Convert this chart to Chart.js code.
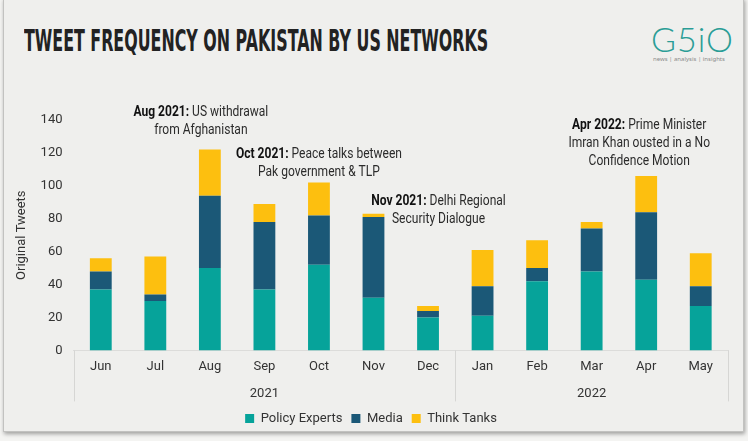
<!DOCTYPE html>
<html>
<head>
<meta charset="utf-8">
<script src="https://cdn.jsdelivr.net/npm/chart.js@4.4.1/dist/chart.umd.min.js"></script>
<style>
  html, body { margin: 0; padding: 0; width: 748px; height: 441px; overflow: hidden; background: #f4f4f2; }
  #card { position: absolute; left: 3px; top: -2px; width: 739px; height: 432px; background: #efefed;
          border: 1px solid #c2c2c0; box-shadow: 1px 2px 4px rgba(0,0,0,.35); }
  #title { position: absolute; left: 24px; top: 25px; font-family: "DejaVu Sans", sans-serif;
           font-weight: bold; font-size: 31px; color: #222; white-space: nowrap; transform-origin: 0 0; line-height: 1; }
  #logo { position: absolute; left: 651px; top: 22px; font-family: Lato, "Noto Sans", sans-serif; font-weight: 300;
          font-size: 34px; color: #2a9d96; line-height: 1; letter-spacing: 1px; }
  #tag { position: absolute; left: 653px; top: 55px; font-family: "Noto Sans", sans-serif; font-size: 6px; color: #8a8a8a; white-space: nowrap; }
  canvas { position: absolute; left: 0; top: 0; }
</style>
</head>
<body>
<div id="card"></div>
<div id="title">TWEET FREQUENCY ON PAKISTAN BY US NETWORKS</div>
<div id="logo">G5iO</div>
<div id="tag">news | analysis | insights</div>
<canvas id="tweetChart" width="748" height="441"></canvas>
<script>
// data
const months = ['Jun', 'Jul', 'Aug', 'Sep', 'Oct', 'Nov', 'Dec', 'Jan', 'Feb', 'Mar', 'Apr', 'May'];
const years = ['2021', '2022'];
const yearSpans = [7, 5];
const policyExperts = [37, 30, 50, 37, 52, 32, 20, 21, 42, 48, 43, 27];
const media = [11, 4, 44, 41, 30, 49, 4, 18, 8, 26, 41, 12];
const thinkTanks = [8, 23, 28, 11, 20, 2, 3, 22, 17, 4, 22, 20];
const yTicks = [0, 20, 40, 60, 80, 100, 120, 140];

const eventIndex = [2, 4, 5, 10];
const eventBold = ['Aug 2021:', 'Oct 2021:', 'Nov 2021:', 'Apr 2022:'];
const eventText = [
    [' US withdrawal', 'from Afghanistan'],
    [' Peace talks between', 'Pak government & TLP'],
    [' Delhi Regional', 'Security Dialogue'],
    [' Prime Minister', 'Imran Khan ousted in a No', 'Confidence Motion']
];

const FONT = 'Roboto, "Noto Sans", sans-serif';
Chart.defaults.font.family = FONT;
Chart.defaults.color = '#333';

// fit the title to its width in the picture
const title = document.getElementById('title');
title.style.transform = 'scaleX(' + (464 / title.offsetWidth) + ')';

// second row of x labels: years, with separator lines
const yearGroups = {
    id: 'yearGroups',
    afterDraw(chart) {
        const { ctx, chartArea, scales: { x } } = chart;
        const half = (x.getPixelForValue(1) - x.getPixelForValue(0)) / 2;
        const top = chartArea.bottom, bottom = chartArea.bottom + 51;
        ctx.save();
        ctx.strokeStyle = '#d6d6d4';
        ctx.lineWidth = 1;
        const sep = px => {
            ctx.beginPath();
            ctx.moveTo(Math.round(px) + 0.5, top);
            ctx.lineTo(Math.round(px) + 0.5, bottom);
            ctx.stroke();
        };
        ctx.fillStyle = '#333';
        ctx.font = '13px ' + FONT;
        ctx.textAlign = 'center';
        ctx.textBaseline = 'middle';
        let start = 0;
        sep(x.getPixelForValue(0) - half);
        years.forEach((yr, i) => {
            const end = start + yearSpans[i];
            const left = x.getPixelForValue(start) - half;
            const right = x.getPixelForValue(end - 1) + half;
            sep(right);
            ctx.fillText(yr, (left + right) / 2, top + 43);
            start = end;
        });
        ctx.restore();
    }
};

// event notes above the bars, a little condensed like the original face
const eventNotes = {
    id: 'eventNotes',
    afterDatasetsDraw(chart) {
        const { ctx, scales: { x, y } } = chart;
        const shift = [[-9, -37], [0, -28], [65, -12], [-7, -50]];
        const squeeze = 0.86;
        ctx.save();
        ctx.textBaseline = 'middle';
        eventIndex.forEach((idx, n) => {
            const total = policyExperts[idx] + media[idx] + thinkTanks[idx];
            const cx = x.getPixelForValue(idx) + shift[n][0];
            let cy = y.getPixelForValue(total) + shift[n][1];
            eventText[n].forEach((line, k) => {
                ctx.save();
                ctx.translate(cx, cy);
                ctx.scale(squeeze, 1);
                if (k === 0) {
                    ctx.font = 'bold 14px ' + FONT;
                    const wb = ctx.measureText(eventBold[n]).width;
                    ctx.font = '14px ' + FONT;
                    const wr = ctx.measureText(line).width;
                    const x0 = -(wb + wr) / 2;
                    ctx.textAlign = 'left';
                    ctx.font = 'bold 14px ' + FONT;
                    ctx.fillStyle = '#111';
                    ctx.fillText(eventBold[n], x0, 0);
                    ctx.font = '14px ' + FONT;
                    ctx.fillStyle = '#2b2b2b';
                    ctx.fillText(line, x0 + wb, 0);
                } else {
                    ctx.font = '14px ' + FONT;
                    ctx.textAlign = 'center';
                    ctx.fillStyle = '#2b2b2b';
                    ctx.fillText(line, 0, 0);
                }
                ctx.restore();
                cy += 18;
            });
        });
        ctx.restore();
    }
};

new Chart(document.getElementById('tweetChart'), {
    type: 'bar',
    data: {
        labels: months,
        datasets: [
            { label: 'Policy Experts', data: policyExperts, backgroundColor: '#06a39a' },
            { label: 'Media', data: media, backgroundColor: '#1b5877' },
            { label: 'Think Tanks', data: thinkTanks, backgroundColor: '#fdbf0f' }
        ]
    },
    options: {
        responsive: false,
        animation: false,
        devicePixelRatio: 1,
        layout: { padding: { left: 14, right: 20, top: 120, bottom: 6 } },
        datasets: { bar: { barPercentage: 0.4, categoryPercentage: 1 } },
        plugins: {
            legend: {
                position: 'bottom',
                labels: { boxWidth: 9, boxHeight: 9, padding: 9, font: { size: 13 }, color: '#333' }
            },
            tooltip: { enabled: false }
        },
        scales: {
            x: {
                stacked: true,
                grid: { display: false, drawTicks: false },
                border: { color: '#dcdcda' },
                ticks: { font: { size: 13 }, padding: 9 },
                afterFit(scale) { scale.height += 19; }
            },
            y: {
                stacked: true,
                min: 0,
                max: 140,
                afterBuildTicks(scale) { scale.ticks = yTicks.map(v => ({ value: v })); },
                grid: { display: false, drawTicks: false },
                border: { display: false },
                ticks: { font: { size: 13 }, padding: 11 },
                title: { display: true, text: 'Original Tweets', font: { size: 13 }, padding: { top: 0, bottom: 0 } }
            }
        }
    },
    plugins: [yearGroups, eventNotes]
});
</script>
</body>
</html>
